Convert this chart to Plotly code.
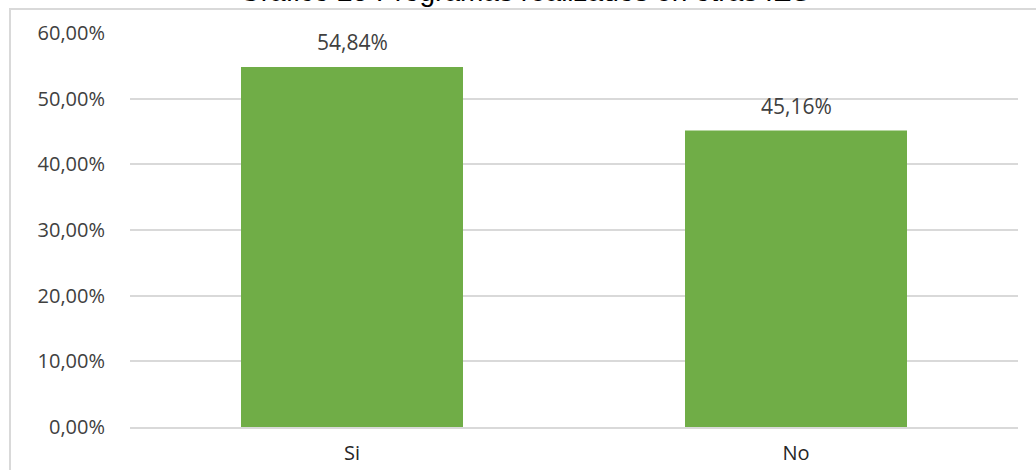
import plotly.graph_objects as go

categories = ["Si", "No"]
values = [0.5484, 0.4516]
y_ticks = [0, 0.1, 0.2, 0.3, 0.4, 0.5, 0.6]
title_text = "Gráfico 25 Programas realizados en otras IES"

TXT_FONT = "Open Sans"

fig = go.Figure()
fig.add_trace(go.Bar(
    x=categories,
    y=values,
    marker=dict(color="#70ad47", line=dict(width=0)),
    width=0.5,
    hoverinfo="skip",
))

label_annotations = [
    dict(x=c, y=v, xref="x", yref="y",
         text=f"{v * 100:.2f}%".replace(".", ","),
         showarrow=False, xanchor="center", yanchor="bottom", yshift=9,
         font=dict(family=TXT_FONT, size=21, color="#404040"))
    for c, v in zip(categories, values)
]

fig.update_layout(
    width=1036,
    height=470,
    margin=dict(l=130, r=18, t=33, b=43),
    paper_bgcolor="white",
    plot_bgcolor="white",
    separators=",.",
    showlegend=False,
    bargap=0.5,
    xaxis=dict(
        automargin=False,
        showgrid=False,
        showline=True,
        linecolor="#d9d9d9",
        linewidth=2,
        ticks="outside",
        ticklen=7,
        tickcolor="rgba(0,0,0,0)",
        tickfont=dict(family=TXT_FONT, size=20, color="#262626"),
        fixedrange=True,
    ),
    yaxis=dict(
        automargin=False,
        range=[0, 0.6001],
        tickvals=y_ticks,
        tickformat=".2%",
        showgrid=True,
        gridcolor="#d9d9d9",
        gridwidth=1.5,
        zeroline=False,
        showline=False,
        ticks="outside",
        ticklen=20,
        tickcolor="rgba(0,0,0,0)",
        tickfont=dict(family=TXT_FONT, size=20, color="#404040"),
        fixedrange=True,
    ),
    shapes=[
        dict(type="rect", xref="paper", yref="paper",
             x0=(10 - 130) / 888, x1=(1045 - 130) / 888,
             y0=-0.2, y1=1 + 24 / 394,
             line=dict(color="#d9d9d9", width=2), fillcolor="rgba(0,0,0,0)",
             layer="below"),
    ],
    annotations=[
        dict(text=title_text, xref="paper", yref="paper",
             x=(524 - 130) / 888, y=1 + 24 / 394,
             xanchor="center", yanchor="bottom", showarrow=False,
             font=dict(family="Liberation Sans", size=28, color="#000000")),
    ] + label_annotations,
)

fig.write_html("out.html", config={"displayModeBar": False},
               post_script="document.body.style.margin='0';")
